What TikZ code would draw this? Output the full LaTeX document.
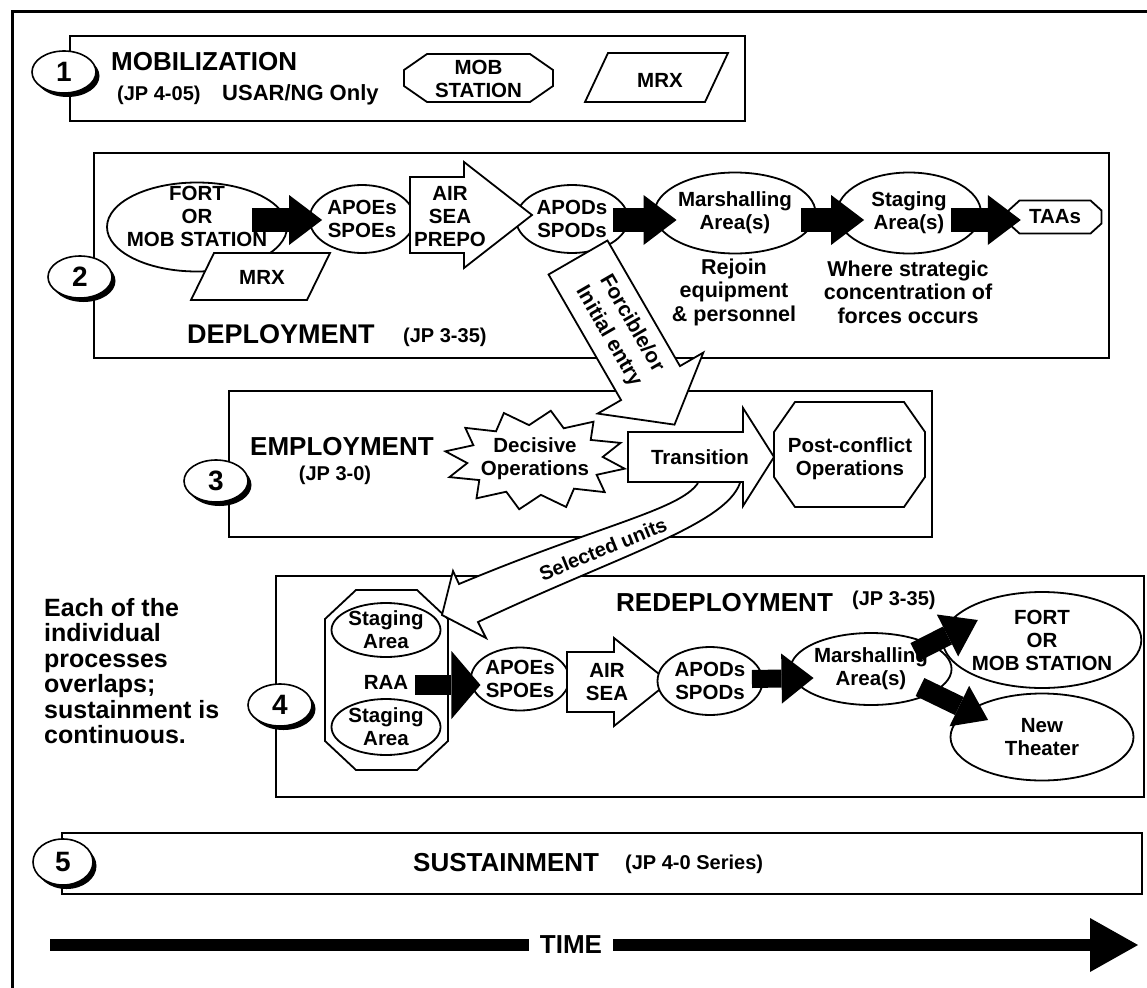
\documentclass[tikz,border=0pt]{standalone}
\usepackage{fontspec}
\setmainfont{Liberation Sans}
\usetikzlibrary{shapes.geometric,arrows.meta,calc,shadows}
\newcommand\fstitle{\fontsize{26}{28}\selectfont\bfseries}
\newcommand\fsjp{\fontsize{20}{22}\selectfont\bfseries}
\newcommand\fsnode{\fontsize{20.5}{23}\selectfont\bfseries}
\newcommand\fsnum{\fontsize{28}{30}\selectfont\bfseries}
\newcommand\fsside{\fontsize{25}{25.5}\selectfont\bfseries}
\newcommand\octpath[6]{%
  \draw[shp] ({#1-#3/2+#5},{#2-#4/2}) -- ({#1+#3/2-#5},{#2-#4/2})
    -- ({#1+#3/2},{#2-#4/2+#6}) -- ({#1+#3/2},{#2+#4/2-#6})
    -- ({#1+#3/2-#5},{#2+#4/2}) -- ({#1-#3/2+#5},{#2+#4/2})
    -- ({#1-#3/2},{#2+#4/2-#6}) -- ({#1-#3/2},{#2-#4/2+#6}) -- cycle;}
\newcommand\pgrampath[5]{%
  \draw[shp] ({#1-#3/2},{#2+#4/2}) -- ({#1+#3/2-#5},{#2+#4/2})
    -- ({#1+#3/2},{#2-#4/2}) -- ({#1-#3/2+#5},{#2-#4/2}) -- cycle;}
\newcommand\warrowpath[7]{%
  \draw[shp, shift={(#1,#2)}, rotate=#3]
    (0,-#5) -- ({#4-#7},-#5) -- ({#4-#7},-#6) -- (#4,0)
    -- ({#4-#7},#6) -- ({#4-#7},#5) -- (0,#5) -- cycle;}
\begin{document}
\begin{tikzpicture}[x=1pt,y=-1pt,
  boxln/.style={draw, line width=2.2pt},
  shp/.style={draw, line width=1.8pt, fill=white, line join=miter},
  ell/.style={ellipse, draw, line width=1.8pt, fill=white, inner sep=0pt, align=center, font=\fsnode},
  txt/.style={inner sep=0pt, align=center, font=\fsnode},
  title/.style={inner sep=0pt, font=\fstitle},
  jp/.style={inner sep=0pt, font=\fsjp},
  numell/.style={ellipse, draw, line width=1.6pt, fill=white, minimum width=64pt, minimum height=42pt, inner sep=0pt, font=\fsnum,
     drop shadow={shadow xshift=3.5pt, shadow yshift=-4pt, fill=black, opacity=1}},
  blk/.style n args={3}{draw=black, line width=#1pt, -{Triangle[length=#2pt, width=#3pt, line width=0pt]}},
]
\clip (0,0) rectangle (1147,987);
\fill[white] (0,0) rectangle (1147,987);
\draw[line width=3pt] (12,12) rectangle (1200,1050);
% boxes
\draw[boxln] (70,36) rectangle (745,121);
\draw[boxln] (94,153) rectangle (1109,358);
\draw[boxln] (229,391) rectangle (932,537);
\draw[boxln] (276,576) rectangle (1144,797);
\draw[boxln] (62,833) rectangle (1142,894);

% ---------- 1 MOBILIZATION
\node[numell] (n1) at (64,72) {1};
\node[title, anchor=west] (mob) at (111,62) {MOBILIZATION};
\node[jp, anchor=west] (jp1) at (117,95) {(JP 4-05)};
\node[inner sep=0pt, font=\fontsize{22}{24}\selectfont\bfseries, anchor=west] (usar) at (222,95) {USAR/NG Only};
\octpath{478.5}{78}{149}{48}{23}{16}
\node[txt] (mobst) at (478.5,78.5) {MOB\\STATION};
\pgrampath{656.5}{77.5}{143}{49}{23}
\node[txt] (mrx1) at (660,80) {MRX};

% ---------- 2 DEPLOYMENT
\node[numell] (n2) at (80,277) {2};
\node[ell, minimum width=180pt, minimum height=89pt] (fort) at (197,227) {};
\pgrampath{260.5}{276.5}{139}{47}{23}
\node[txt] (mrx2) at (262,277) {MRX};
\node[txt] (forttext) at (197,216) {FORT\\OR\\MOB STATION};
\node[ell, minimum width=105pt, minimum height=68pt] (apoe) at (362,219) {APOEs\\SPOEs};
\node[ell, minimum width=112pt, minimum height=68pt] (apod) at (572,219) {APODs\\SPODs};
\node[ell, minimum width=148pt, minimum height=81pt] (marsh) at (735,213) {Marshalling\\Area(s)};
\node[ell, minimum width=144pt, minimum height=81pt] (stag) at (909,213) {Staging\\Area(s)};
\octpath{1055}{217}{93}{33}{11}{10}
\node[txt, minimum width=93pt] (taa) at (1055,217) {TAAs};
\warrowpath{410}{215}{0}{122}{38}{53}{68}
\node[txt] (airsea) at (450,217) {AIR\\SEA\\PREPO};
\draw[blk={24}{33}{50}] ($(fort.east)+(-36,-7)$) -- ($(apoe.west)+(13.5,1)$);
\draw[blk={24}{33}{50}] ($(apod.east)+(-16,1)$) -- ($(marsh.west)+(23,7)$);
\draw[blk={24}{33}{50}] ($(marsh.east)+(-15,7)$) -- ($(stag.west)+(28,7)$);
\draw[blk={24}{33}{50}] ($(stag.east)+(-31,7)$) -- ($(taa.west)+(12.5,3)$);
\node[txt, font=\fontsize{21.5}{23.5}\selectfont\bfseries] (rejoin) at (734,292) {Rejoin\\equipment\\\& personnel};
\node[txt, font=\fontsize{21.5}{23.5}\selectfont\bfseries] (where) at (908,292) {Where strategic\\concentration of\\forces occurs};
\node[title, anchor=west, font=\fontsize{27}{29}\selectfont\bfseries] (dep) at (187,334) {DEPLOYMENT};
\node[jp, anchor=west] (jp2) at (403,337) {(JP 3-35)};

% ---------- 3 EMPLOYMENT
\node[numell] (n3) at (216,481) {3};
\node[title, anchor=west] (emp) at (250,447) {EMPLOYMENT};
\node[jp] (jp3) at (335,475) {(JP 3-0)};
\draw[shp] plot[variable=\sbi, samples at={0,...,23}]
  ({535+ifthenelse(mod(\sbi,2)==0,91,68)*cos(20+15*\sbi)},
   {460-ifthenelse(mod(\sbi,2)==0,50,35)*sin(20+15*\sbi)}) -- cycle;
\node[txt] (decisive) at (535,459) {Decisive\\Operations};
\octpath{849.5}{454.5}{151}{105}{21}{30}
\node[txt] (post) at (850,459) {Post-conflict\\Operations};
\warrowpath{578}{257.5}{-60}{193}{34}{61}{48}
\node[txt, rotate=-60, font=\fontsize{21}{26.5}\selectfont\bfseries] (forc) at (620,330) {Forcible/or\\Initial entry};

% ---------- 4 REDEPLOYMENT
\node[numell] (n4) at (280,705) {4};
\octpath{386.5}{680}{123}{180}{31}{29}
\node[ell, minimum width=109pt, minimum height=54pt] (stag1) at (386,630) {Staging\\Area};
\node[txt] (raa) at (386,682) {RAA};
\node[ell, minimum width=109pt, minimum height=56pt] (stag2) at (386,727) {Staging\\Area};
% selected units band
\draw[shp] (698,483) .. controls (680,510) and (600,525) .. (459,584) -- (453,571) -- (442,615)
  -- (486,638) -- (478,622) .. controls (620,555) and (725,525) .. (740,483);
\node[txt, rotate=22, font=\fontsize{20}{22}\selectfont\bfseries] (selu) at (603,549) {Selected units};
\warrowpath{628}{457}{0}{146}{25}{49}{31}
\node[txt] (trans) at (700,457) {Transition};

\node[ell, minimum width=93pt, minimum height=63pt] (apoe2) at (520,679) {APOEs\\SPOEs};
\warrowpath{567}{682}{0}{102}{30}{44}{55}
\node[txt] (airsea2) at (607,682) {AIR\\SEA};
\node[ell, minimum width=105pt, minimum height=68pt] (apod2) at (710,681) {APODs\\SPODs};
\node[ell, minimum width=146pt, minimum height=72pt] (marsh2) at (871,669) {Marshalling\\Area(s)};
\node[ell, minimum width=182pt, minimum height=96pt] (fort2) at (1042,640) {FORT\\OR\\MOB STATION};
\node[ell, minimum width=183pt, minimum height=87pt] (newth) at (1042,737) {New\\Theater};
\node[title, anchor=west] (redep) at (616,603) {REDEPLOYMENT};
\node[jp, anchor=west] (jp4) at (852,600) {(JP 3-35)};
\draw[blk={20}{29}{68}] ($(raa.center)+(29,3)$) -- ($(apoe2.west)+(10.5,6)$);
\draw[blk={18}{32}{50}] ($(apod2.east)+(-11.5,-2)$) -- ($(marsh2.west)+(24,9)$);
\draw[blk={20}{34}{47}] ($(marsh2.center)+(44,-17)$) -- ($(fort2.west)+(36,-20)$);
\draw[blk={20}{32}{45}] ($(marsh2.center)+(49,18)$) -- ($(newth.west)+(38.5,-17)$);

\node[inner sep=0pt, align=left, anchor=north west, font=\fsside] (side) at (44,598)
  {Each of the\\individual\\processes\\overlaps;\\sustainment is\\continuous.};

% ---------- 5 SUSTAINMENT
\node[numell, minimum width=60pt, minimum height=46pt] (n5) at (63,862) {5};
\node[title, anchor=west] (sust) at (413,863) {SUSTAINMENT};
\node[jp, anchor=west] (jp5) at (625,864) {(JP 4-0 Series)};

% ---------- TIME
\coordinate (t0) at (50,945);
\coordinate (t1) at (1138,945);
\draw[blk={12}{48}{54}] (t0) -- (t1);
\node[title, fill=white, inner xsep=11pt, inner ysep=2pt] (time) at (571,945) {TIME};
\end{tikzpicture}
\end{document}
